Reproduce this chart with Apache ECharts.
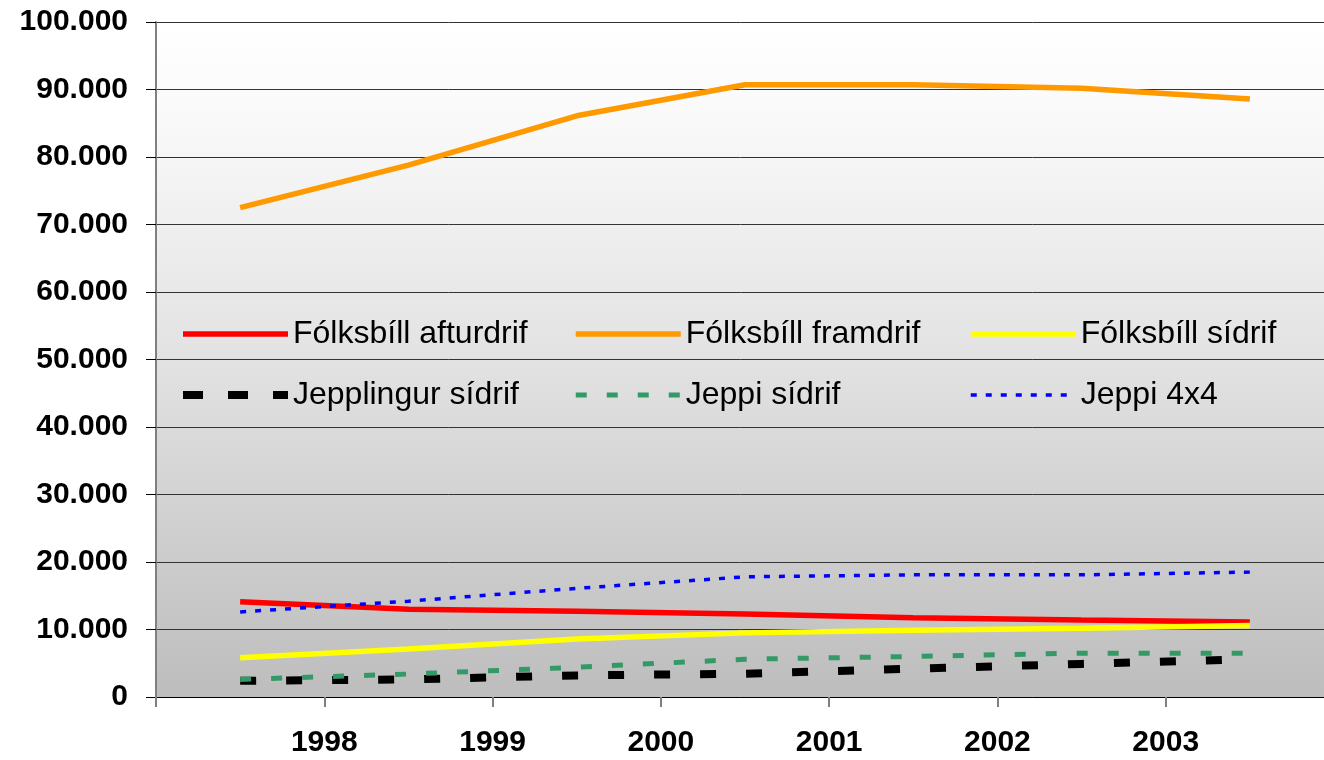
<!DOCTYPE html>
<html>
<head>
<meta charset="utf-8">
<script src="https://cdn.jsdelivr.net/npm/echarts@6/dist/echarts.min.js"></script>
<style>
  html, body { margin: 0; padding: 0; background: #fff; }
  #chart { width: 1324px; height: 760px; }
</style>
</head>
<body>
<div id="chart"></div>
<script>
// x position of each yearly value (mid-year, between the year ticks)
const pointX = [1997.5, 1998.5, 1999.5, 2000.5, 2001.5, 2002.5, 2003.5];
const yearLabels = ['1998', '1999', '2000', '2001', '2002', '2003'];

const names = ['Fólksbíll afturdrif', 'Fólksbíll framdrif', 'Fólksbíll sídrif',
  'Jepplingur sídrif', 'Jeppi sídrif', 'Jeppi 4x4'];

const folksbillAfturdrif = [14100, 13000, 12700, 12300, 11750, 11400, 11100];
const folksbillFramdrif = [72500, 78800, 86100, 90700, 90700, 90200, 88600];
const folksbillSidrif = [5800, 7100, 8600, 9500, 9900, 10200, 10600];
const jepplingurSidrif = [2400, 2600, 3200, 3450, 4200, 4900, 5600];
const jeppiSidrif = [2600, 3400, 4400, 5600, 6000, 6500, 6500];
const jeppi4x4 = [12600, 14200, 16100, 17800, 18100, 18100, 18500];

const fontFam = 'Arial, "Liberation Sans", sans-serif';

const toPairs = function (vals) {
  return vals.map((v, i) => [pointX[i], v]);
};

const makeSeries = function (name, vals, color, width, dash) {
  return {
    type: 'line',
    name: name,
    data: toPairs(vals),
    symbol: 'none',
    silent: true,
    animation: false,
    lineStyle: { color: color, width: width, type: dash || 'solid', cap: 'butt' },
    itemStyle: { color: color }
  };
};

const legendItem = function (name, width, dash) {
  return { name: name, lineStyle: { width: width, type: dash || 'solid', cap: 'butt' } };
};

const makeLegend = function (left, items) {
  return {
    orient: 'vertical',
    left: left,
    top: 318,
    itemWidth: 105,
    itemHeight: 14,
    itemGap: 29,
    padding: 0,
    selectedMode: false,
    itemStyle: { opacity: 0 },
    textStyle: { fontSize: 32, lineHeight: 32, color: '#000', fontFamily: fontFam },
    data: items
  };
};

const chart = echarts.init(document.getElementById('chart'), null, { renderer: 'canvas' });

const option = {
  animation: false,
  backgroundColor: '#fff',
  grid: {
    left: 156, top: 22, bottom: 63, right: -10,
    outerBoundsMode: 'none',
    containLabel: false,
    show: true,
    borderWidth: 0,
    backgroundColor: {
      type: 'linear', x: 0, y: 0, x2: 0, y2: 1,
      colorStops: [
        { offset: 0, color: '#ffffff' },
        { offset: 0.15, color: '#f9f9f9' },
        { offset: 0.5, color: '#e2e2e2' },
        { offset: 1, color: '#bdbdbd' }
      ]
    }
  },
  legend: [
    makeLegend(179, [legendItem(names[0], 5.5), legendItem(names[3], 8, [20, 25])]),
    makeLegend(573, [legendItem(names[1], 5.5), legendItem(names[4], 5, [11, 20])]),
    makeLegend(968, [legendItem(names[2], 5.5), legendItem(names[5], 3.5, [6, 9])])
  ],
  xAxis: {
    type: 'value',
    min: 1997,
    max: 2004,
    interval: 1,
    axisLine: { show: true, lineStyle: { color: '#000', width: 1 } },
    axisTick: { show: true, length: 10, lineStyle: { color: '#808080', width: 2 } },
    splitLine: { show: false },
    axisLabel: {
      margin: 31,
      fontSize: 30,
      fontWeight: 'bold',
      color: '#000',
      fontFamily: fontFam,
      formatter: function (v) {
        const s = String(Math.round(v));
        return yearLabels.indexOf(s) >= 0 ? s : '';
      }
    }
  },
  yAxis: {
    type: 'value',
    min: 0,
    max: 100000,
    interval: 10000,
    axisLine: { show: true, lineStyle: { color: '#808080', width: 2 } },
    axisTick: { show: true, length: 10, lineStyle: { color: '#000', width: 1 } },
    splitLine: { show: true, lineStyle: { color: '#333', width: 1 } },
    axisLabel: {
      margin: 28,
      fontSize: 30,
      fontWeight: 'bold',
      color: '#000',
      fontFamily: fontFam,
      formatter: function (v) {
        return v === 0 ? '0' : (v / 1000).toFixed(3);
      }
    }
  },
  series: [
    makeSeries(names[0], folksbillAfturdrif, '#ff0000', 5.5),
    makeSeries(names[1], folksbillFramdrif, '#ff9900', 5.5),
    makeSeries(names[2], folksbillSidrif, '#ffff00', 5.5),
    makeSeries(names[3], jepplingurSidrif, '#000000', 8, [16, 30]),
    makeSeries(names[4], jeppiSidrif, '#339966', 5, [11, 20]),
    makeSeries(names[5], jeppi4x4, '#0000ff', 3.5, [6, 9])
  ]
};

chart.setOption(option);
</script>
</body>
</html>
